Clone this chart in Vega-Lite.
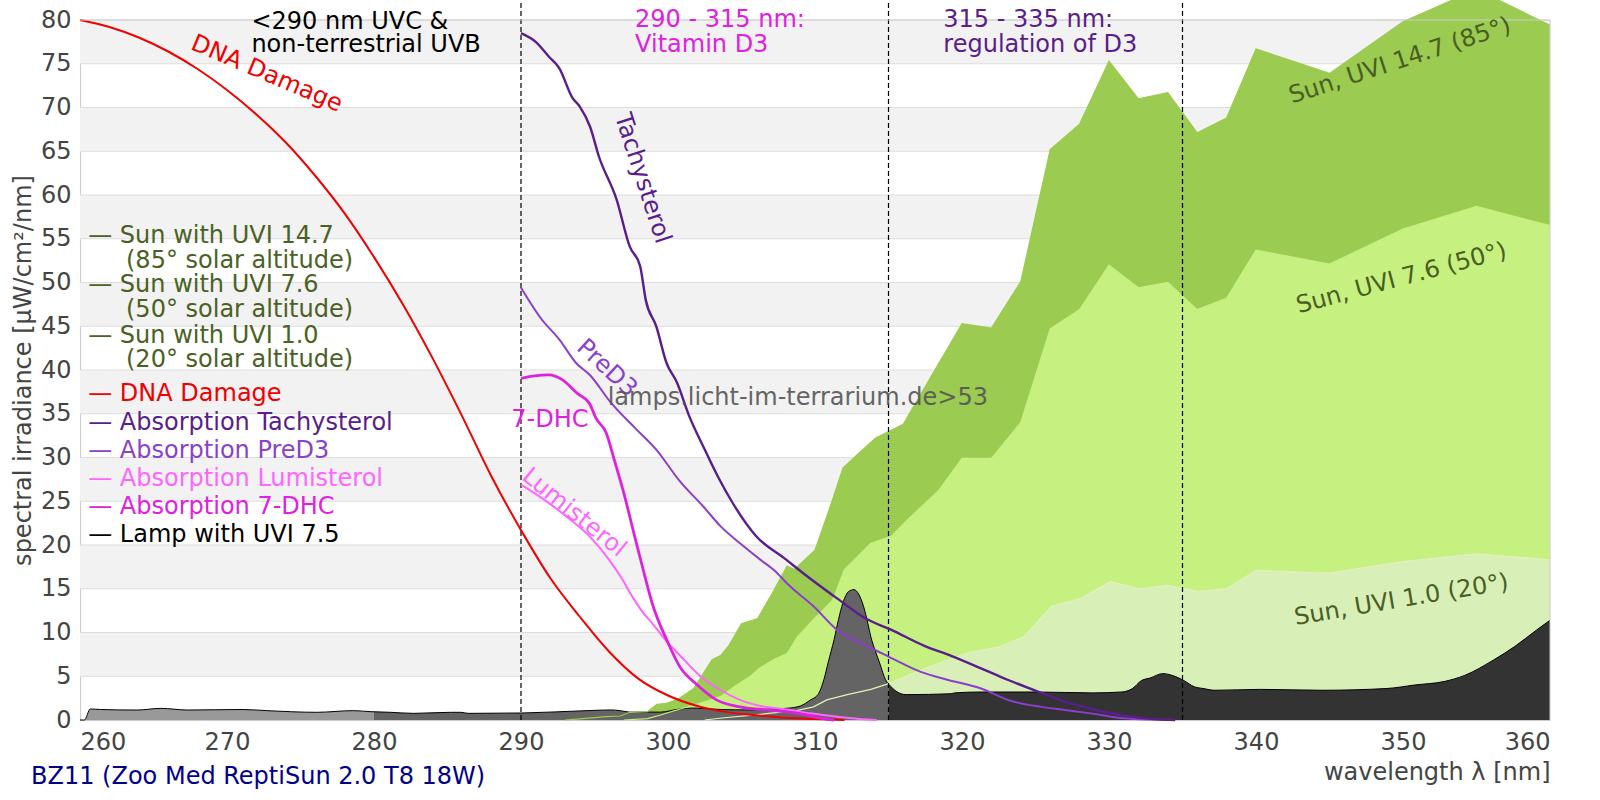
{
  "$schema": "https://vega.github.io/schema/vega-lite/v6.json",
  "width": 1470,
  "height": 700,
  "autosize": {"type": "none"},
  "padding": {"left": 80, "top": 20, "right": 50, "bottom": 80},
  "background": "white",
  "config": {
    "view": {"stroke": null},
    "axis": {"labelFont": "DejaVu Sans", "titleFont": "DejaVu Sans", "ticks": false, "grid": false,
      "domainColor": "#cccccc", "labelFontSize": 24, "labelColor": "#444444",
      "titleFontSize": 24, "titleFontWeight": "normal", "titleColor": "#444444"},
    "axisX": {"labelPadding": 10, "titleAnchor": "end", "titlePadding": 6},
    "axisY": {"labelPadding": 9, "titlePadding": 5},
    "text": {"font": "DejaVu Sans", "fontSize": 24}
  },
  "datasets": {
    "sun14": [
      {"wl": 293, "v": 0}, {"wl": 294, "v": 0.12}, {"wl": 295.8, "v": 0.38}, {"wl": 296.75, "v": 0.46},
      {"wl": 297.4, "v": 0.88}, {"wl": 298.6, "v": 0.95}, {"wl": 299.25, "v": 1.8}, {"wl": 299.9, "v": 1.9},
      {"wl": 300.7, "v": 2.4}, {"wl": 301.75, "v": 3.6}, {"wl": 303, "v": 6.9}, {"wl": 303.6, "v": 7.4},
      {"wl": 304.1, "v": 8.4}, {"wl": 305, "v": 11.0}, {"wl": 306.1, "v": 11.6}, {"wl": 307.1, "v": 14.5},
      {"wl": 308.1, "v": 17.6}, {"wl": 308.6, "v": 17.2}, {"wl": 310, "v": 19.4}, {"wl": 311.2, "v": 25.2},
      {"wl": 311.9, "v": 28.8}, {"wl": 312.8, "v": 30.2}, {"wl": 314.1, "v": 32.2}, {"wl": 316, "v": 33.8},
      {"wl": 320, "v": 45.3}, {"wl": 322, "v": 44.8}, {"wl": 324, "v": 50.1}, {"wl": 326, "v": 65.2},
      {"wl": 328, "v": 68.1}, {"wl": 330, "v": 75.3}, {"wl": 332, "v": 71.0}, {"wl": 334, "v": 71.7},
      {"wl": 336, "v": 67.1}, {"wl": 338, "v": 68.8}, {"wl": 340, "v": 76.7}, {"wl": 345, "v": 73.9},
      {"wl": 350, "v": 79.8}, {"wl": 355, "v": 83.5}, {"wl": 360, "v": 79.4}
    ],
    "sun7": [
      {"wl": 297, "v": 0}, {"wl": 298.6, "v": 0.15}, {"wl": 299.5, "v": 0.57}, {"wl": 300.7, "v": 1.2},
      {"wl": 302.2, "v": 1.9}, {"wl": 303.6, "v": 2.7}, {"wl": 304.5, "v": 3.8}, {"wl": 305.6, "v": 5.0},
      {"wl": 306.2, "v": 5.9}, {"wl": 307.2, "v": 6.9}, {"wl": 308.1, "v": 7.6}, {"wl": 308.8, "v": 9.5},
      {"wl": 309.9, "v": 11.5}, {"wl": 311.2, "v": 13.7}, {"wl": 312, "v": 17.2}, {"wl": 313.8, "v": 20.2},
      {"wl": 315.2, "v": 21.0}, {"wl": 316.3, "v": 22.9}, {"wl": 318.4, "v": 26.2}, {"wl": 320, "v": 29.9},
      {"wl": 322, "v": 29.9}, {"wl": 324, "v": 34.0}, {"wl": 326, "v": 44.7}, {"wl": 328, "v": 46.9},
      {"wl": 330, "v": 52.0}, {"wl": 332, "v": 49.4}, {"wl": 334, "v": 50.0}, {"wl": 336, "v": 46.9},
      {"wl": 338, "v": 48.2}, {"wl": 340, "v": 53.7}, {"wl": 345, "v": 52.1}, {"wl": 350, "v": 56.1},
      {"wl": 355, "v": 58.7}, {"wl": 360, "v": 56.5}
    ],
    "sun1": [
      {"wl": 302.5, "v": 0}, {"wl": 303.5, "v": 0.2}, {"wl": 306.3, "v": 0.65}, {"wl": 308.8, "v": 1.1},
      {"wl": 309.9, "v": 1.5}, {"wl": 310.8, "v": 2.3}, {"wl": 312.2, "v": 2.9}, {"wl": 313.8, "v": 3.5},
      {"wl": 314.9, "v": 4.1}, {"wl": 317.2, "v": 5.7}, {"wl": 320.2, "v": 7.6}, {"wl": 322.6, "v": 8.4},
      {"wl": 324.2, "v": 9.5}, {"wl": 326.1, "v": 13.0}, {"wl": 328.1, "v": 13.9}, {"wl": 330.1, "v": 15.8},
      {"wl": 332.1, "v": 15.0}, {"wl": 334, "v": 15.4}, {"wl": 336, "v": 14.7}, {"wl": 338, "v": 15.0},
      {"wl": 340, "v": 17.1}, {"wl": 345, "v": 16.8}, {"wl": 350, "v": 18.1}, {"wl": 355, "v": 19.0},
      {"wl": 360, "v": 18.3}
    ],
    "lamp": [
      {"seg": "a", "wl": 260, "v": 0}, {"seg": "a", "wl": 260.3, "v": 0}, {"seg": "a", "wl": 260.7, "v": 1.26},
      {"seg": "a", "wl": 261.4, "v": 1.2}, {"seg": "a", "wl": 263.9, "v": 1.14}, {"seg": "a", "wl": 265.5, "v": 1.33},
      {"seg": "a", "wl": 267.3, "v": 1.14}, {"seg": "a", "wl": 271.1, "v": 1.2}, {"seg": "a", "wl": 272.7, "v": 1.07},
      {"seg": "a", "wl": 276.1, "v": 0.88}, {"seg": "a", "wl": 278.6, "v": 1.07}, {"seg": "a", "wl": 279.8, "v": 0.95},
      {"seg": "a", "wl": 280, "v": 0.94},
      {"seg": "b", "wl": 280, "v": 0.94}, {"seg": "b", "wl": 281.1, "v": 0.88}, {"seg": "b", "wl": 282.7, "v": 0.76},
      {"seg": "b", "wl": 285.2, "v": 0.88}, {"seg": "b", "wl": 285.9, "v": 0.88}, {"seg": "b", "wl": 286.4, "v": 0.76},
      {"seg": "b", "wl": 290, "v": 0.8}, {"seg": "b", "wl": 294.5, "v": 1.07}, {"seg": "b", "wl": 296.1, "v": 1.15},
      {"seg": "b", "wl": 296.75, "v": 1.07}, {"seg": "b", "wl": 297.4, "v": 0.9}, {"seg": "b", "wl": 299.5, "v": 0.9},
      {"seg": "b", "wl": 300.8, "v": 1.26}, {"seg": "b", "wl": 301.75, "v": 1.37}, {"seg": "b", "wl": 303.6, "v": 1.2},
      {"seg": "b", "wl": 305.6, "v": 1.15}, {"seg": "b", "wl": 307, "v": 1.26}, {"seg": "b", "wl": 308.1, "v": 1.34},
      {"seg": "b", "wl": 309, "v": 1.6}, {"seg": "b", "wl": 309.7, "v": 2.3}, {"seg": "b", "wl": 310.2, "v": 2.9},
      {"seg": "b", "wl": 310.6, "v": 4.6}, {"seg": "b", "wl": 310.9, "v": 6.6}, {"seg": "b", "wl": 311.3, "v": 9.2},
      {"seg": "b", "wl": 311.6, "v": 11.5}, {"seg": "b", "wl": 311.9, "v": 13.4}, {"seg": "b", "wl": 312.3, "v": 14.7},
      {"seg": "b", "wl": 312.65, "v": 14.9}, {"seg": "b", "wl": 313.0, "v": 14.3}, {"seg": "b", "wl": 313.3, "v": 13.0},
      {"seg": "b", "wl": 313.6, "v": 11.0}, {"seg": "b", "wl": 313.8, "v": 9.5}, {"seg": "b", "wl": 314.1, "v": 7.9},
      {"seg": "b", "wl": 314.4, "v": 6.5}, {"seg": "b", "wl": 314.8, "v": 4.6}, {"seg": "b", "wl": 315, "v": 4.1},
      {"seg": "c", "wl": 315, "v": 4.1}, {"seg": "c", "wl": 315.6, "v": 3.2}, {"seg": "c", "wl": 316.2, "v": 2.9},
      {"seg": "c", "wl": 319.25, "v": 3.0}, {"seg": "c", "wl": 319.5, "v": 3.1}, {"seg": "c", "wl": 321.3, "v": 3.2},
      {"seg": "c", "wl": 325, "v": 3.2}, {"seg": "c", "wl": 328.9, "v": 3.1}, {"seg": "c", "wl": 330.85, "v": 3.2},
      {"seg": "c", "wl": 331.6, "v": 3.6}, {"seg": "c", "wl": 332.2, "v": 4.5}, {"seg": "c", "wl": 332.8, "v": 4.8},
      {"seg": "c", "wl": 333.65, "v": 5.3}, {"seg": "c", "wl": 334.3, "v": 5.1}, {"seg": "c", "wl": 335.1, "v": 4.5},
      {"seg": "c", "wl": 335.8, "v": 3.8}, {"seg": "c", "wl": 336.4, "v": 3.6}, {"seg": "c", "wl": 337.2, "v": 3.4},
      {"seg": "c", "wl": 340.3, "v": 3.5}, {"seg": "c", "wl": 344.5, "v": 3.4}, {"seg": "c", "wl": 348.9, "v": 3.6},
      {"seg": "c", "wl": 350.8, "v": 4.0}, {"seg": "c", "wl": 352.8, "v": 4.4}, {"seg": "c", "wl": 354.2, "v": 5.1},
      {"seg": "c", "wl": 356.2, "v": 6.9}, {"seg": "c", "wl": 357.6, "v": 8.4}, {"seg": "c", "wl": 359.1, "v": 10.3},
      {"seg": "c", "wl": 360, "v": 11.4}
    ],
    "dna": [
      {"wl": 260, "v": 80}, {"wl": 262, "v": 79.2}, {"wl": 264, "v": 78.0}, {"wl": 266, "v": 76.4},
      {"wl": 268, "v": 74.4}, {"wl": 270, "v": 72.0}, {"wl": 272, "v": 69.2}, {"wl": 274, "v": 66.0},
      {"wl": 276, "v": 62.2}, {"wl": 278, "v": 57.9}, {"wl": 280, "v": 52.9}, {"wl": 282, "v": 47.4},
      {"wl": 284, "v": 41.3}, {"wl": 286, "v": 34.7}, {"wl": 288, "v": 27.8}, {"wl": 290, "v": 21.7},
      {"wl": 292, "v": 16.2}, {"wl": 294, "v": 11.8}, {"wl": 296, "v": 7.8}, {"wl": 298, "v": 4.7},
      {"wl": 300, "v": 2.8}, {"wl": 302, "v": 1.6}, {"wl": 304, "v": 0.9}, {"wl": 306, "v": 0.55},
      {"wl": 308, "v": 0.25}, {"wl": 310, "v": 0.1}, {"wl": 312, "v": 0}
    ],
    "tachy": [
      {"wl": 290, "v": 78.5}, {"wl": 291, "v": 77.5}, {"wl": 291.9, "v": 75.8}, {"wl": 292.6, "v": 74.5},
      {"wl": 293.5, "v": 71.1}, {"wl": 294, "v": 70.1}, {"wl": 294.7, "v": 67.8}, {"wl": 295.3, "v": 64.4},
      {"wl": 296.5, "v": 59.5}, {"wl": 297.4, "v": 54.1}, {"wl": 298.1, "v": 51.9}, {"wl": 298.5, "v": 47.9},
      {"wl": 299.2, "v": 45.0}, {"wl": 299.9, "v": 40.8}, {"wl": 300.6, "v": 38.6}, {"wl": 301.45, "v": 34.7},
      {"wl": 302.4, "v": 31.25}, {"wl": 303.4, "v": 27.8}, {"wl": 304.4, "v": 24.8}, {"wl": 306, "v": 21.0},
      {"wl": 307.9, "v": 18.5}, {"wl": 309.8, "v": 16.0}, {"wl": 311.5, "v": 13.9}, {"wl": 313.45, "v": 11.6},
      {"wl": 315.2, "v": 10.3}, {"wl": 317.4, "v": 8.5}, {"wl": 319.3, "v": 7.3}, {"wl": 321.3, "v": 5.9},
      {"wl": 323.1, "v": 4.6}, {"wl": 325.4, "v": 3.1}, {"wl": 327, "v": 2.1}, {"wl": 329, "v": 1.2},
      {"wl": 331, "v": 0.5}, {"wl": 333, "v": 0.1}, {"wl": 334.5, "v": 0}
    ],
    "pred3": [
      {"wl": 290, "v": 49.4}, {"wl": 291.4, "v": 45.8}, {"wl": 292.6, "v": 43.5}, {"wl": 293.75, "v": 40.8},
      {"wl": 294.7, "v": 39.4}, {"wl": 296.1, "v": 36.3}, {"wl": 297.8, "v": 33.3}, {"wl": 299.2, "v": 30.9},
      {"wl": 300.8, "v": 27.3}, {"wl": 302.4, "v": 24.4}, {"wl": 303.6, "v": 22.1}, {"wl": 304.9, "v": 20.2},
      {"wl": 306.3, "v": 18.3}, {"wl": 307.3, "v": 17.0}, {"wl": 308.1, "v": 15.6}, {"wl": 309.9, "v": 13.0},
      {"wl": 311.5, "v": 10.3}, {"wl": 313.6, "v": 8.4}, {"wl": 315, "v": 7.25}, {"wl": 317.2, "v": 5.5},
      {"wl": 319, "v": 4.6}, {"wl": 321.3, "v": 3.6}, {"wl": 323.3, "v": 2.2}, {"wl": 325.4, "v": 1.5},
      {"wl": 327, "v": 1.14}, {"wl": 329, "v": 0.7}, {"wl": 331, "v": 0.2}, {"wl": 333, "v": 0.05},
      {"wl": 334.5, "v": 0}
    ],
    "lumi": [
      {"wl": 290, "v": 26.9}, {"wl": 291.25, "v": 25.55}, {"wl": 293.06, "v": 23.3}, {"wl": 294.6, "v": 21.1},
      {"wl": 296, "v": 18.3}, {"wl": 296.9, "v": 16.05}, {"wl": 297.5, "v": 14.3}, {"wl": 298.2, "v": 12.5},
      {"wl": 299, "v": 10.9}, {"wl": 299.9, "v": 9.0}, {"wl": 300.8, "v": 7.4}, {"wl": 302.2, "v": 5.0},
      {"wl": 303.6, "v": 3.4}, {"wl": 304.9, "v": 2.3}, {"wl": 306.3, "v": 1.6}, {"wl": 308.1, "v": 1.2},
      {"wl": 309.7, "v": 0.76}, {"wl": 311.5, "v": 0.38}, {"wl": 313.6, "v": 0.05}, {"wl": 314.2, "v": 0}
    ],
    "dhc": [
      {"wl": 290, "v": 39.05}, {"wl": 290.8, "v": 39.3}, {"wl": 291.9, "v": 39.45}, {"wl": 292.8, "v": 38.9},
      {"wl": 293.85, "v": 37.3}, {"wl": 294.65, "v": 36.2}, {"wl": 295.1, "v": 34.5}, {"wl": 295.8, "v": 32.8},
      {"wl": 296.35, "v": 29.7}, {"wl": 297.0, "v": 25.9}, {"wl": 297.7, "v": 21.2}, {"wl": 298.4, "v": 16.6},
      {"wl": 298.95, "v": 13.2}, {"wl": 299.9, "v": 9.2}, {"wl": 300.8, "v": 6.1}, {"wl": 302.0, "v": 4.0},
      {"wl": 303.3, "v": 2.3}, {"wl": 304.9, "v": 1.5}, {"wl": 306.75, "v": 1.15}, {"wl": 308.8, "v": 0.76},
      {"wl": 310.8, "v": 0.1}, {"wl": 311.3, "v": 0}
    ]
  },
  "layer": [
    {
      "data": {"values": [
        {"wl": 260, "wl2": 360, "v": 5, "v2": 10}, {"wl": 260, "wl2": 360, "v": 15, "v2": 20},
        {"wl": 260, "wl2": 360, "v": 25, "v2": 30}, {"wl": 260, "wl2": 360, "v": 35, "v2": 40},
        {"wl": 260, "wl2": 360, "v": 45, "v2": 50}, {"wl": 260, "wl2": 360, "v": 55, "v2": 60},
        {"wl": 260, "wl2": 360, "v": 65, "v2": 70}, {"wl": 260, "wl2": 360, "v": 75, "v2": 80}
      ]},
      "mark": {"type": "rect", "color": "#f2f2f2"},
      "encoding": {
        "x": {"field": "wl", "type": "quantitative", "title": "wavelength λ [nm]",
          "scale": {"domain": [260, 360], "nice": false, "zero": false},
          "axis": {"values": [260, 270, 280, 290, 300, 310, 320, 330, 340, 350, 360]}},
        "x2": {"field": "wl2"},
        "y": {"field": "v", "type": "quantitative", "title": "spectral irradiance [µW/cm²/nm]",
          "scale": {"domain": [0, 80], "nice": false, "zero": false},
          "axis": {"values": [0, 5, 10, 15, 20, 25, 30, 35, 40, 45, 50, 55, 60, 65, 70, 75, 80]}},
        "y2": {"field": "v2"}
      }
    },
    {
      "data": {"values": [
        {"v": 5}, {"v": 10}, {"v": 15}, {"v": 20}, {"v": 25}, {"v": 30}, {"v": 35}, {"v": 40},
        {"v": 45}, {"v": 50}, {"v": 55}, {"v": 60}, {"v": 65}, {"v": 70}, {"v": 75}, {"v": 80}
      ]},
      "mark": {"type": "rule", "color": "#dddddd", "strokeWidth": 1},
      "encoding": {"y": {"field": "v", "type": "quantitative", "title": "spectral irradiance [µW/cm²/nm]"}}
    },
    {
      "data": {"name": "sun14"},
      "mark": {"type": "area", "color": "#9bcb50", "opacity": 1},
      "encoding": {"x": {"field": "wl", "type": "quantitative", "title": "wavelength λ [nm]"}, "y": {"field": "v", "type": "quantitative", "stack": null, "title": "spectral irradiance [µW/cm²/nm]"}}
    },
    {
      "data": {"name": "sun7"},
      "mark": {"type": "area", "color": "#c6f07f", "opacity": 1},
      "encoding": {"x": {"field": "wl", "type": "quantitative", "title": "wavelength λ [nm]"}, "y": {"field": "v", "type": "quantitative", "stack": null, "title": "spectral irradiance [µW/cm²/nm]"}}
    },
    {
      "data": {"name": "sun1"},
      "mark": {"type": "area", "color": "#d9efb8", "opacity": 1},
      "encoding": {"x": {"field": "wl", "type": "quantitative", "title": "wavelength λ [nm]"}, "y": {"field": "v", "type": "quantitative", "stack": null, "title": "spectral irradiance [µW/cm²/nm]"}}
    },
    {
      "data": {"name": "lamp"},
      "transform": [{"filter": "datum.seg == 'a'"}],
      "mark": {"type": "area", "color": "#999999", "opacity": 1, "interpolate": "monotone"},
      "encoding": {"x": {"field": "wl", "type": "quantitative", "title": "wavelength λ [nm]"}, "y": {"field": "v", "type": "quantitative", "stack": null, "title": "spectral irradiance [µW/cm²/nm]"}}
    },
    {
      "data": {"name": "lamp"},
      "transform": [{"filter": "datum.seg == 'b'"}],
      "mark": {"type": "area", "color": "#646464", "opacity": 1, "interpolate": "monotone"},
      "encoding": {"x": {"field": "wl", "type": "quantitative", "title": "wavelength λ [nm]"}, "y": {"field": "v", "type": "quantitative", "stack": null, "title": "spectral irradiance [µW/cm²/nm]"}}
    },
    {
      "data": {"name": "lamp"},
      "transform": [{"filter": "datum.seg == 'c'"}],
      "mark": {"type": "area", "color": "#333333", "opacity": 1, "interpolate": "monotone"},
      "encoding": {"x": {"field": "wl", "type": "quantitative", "title": "wavelength λ [nm]"}, "y": {"field": "v", "type": "quantitative", "stack": null, "title": "spectral irradiance [µW/cm²/nm]"}}
    },
    {
      "data": {"name": "lamp"},
      "mark": {"type": "line", "color": "#000000", "strokeWidth": 1, "interpolate": "monotone"},
      "encoding": {"x": {"field": "wl", "type": "quantitative", "title": "wavelength λ [nm]"}, "y": {"field": "v", "type": "quantitative", "title": "spectral irradiance [µW/cm²/nm]"}, "detail": {"field": "seg"}}
    },
    {
      "data": {"name": "sun14"},
      "mark": {"type": "line", "color": "#9bcb50", "strokeWidth": 1.2},
      "encoding": {"x": {"field": "wl", "type": "quantitative", "title": "wavelength λ [nm]"}, "y": {"field": "v", "type": "quantitative", "title": "spectral irradiance [µW/cm²/nm]"}}
    },
    {
      "data": {"name": "sun7"},
      "mark": {"type": "line", "color": "#c6f07f", "strokeWidth": 1.2},
      "encoding": {"x": {"field": "wl", "type": "quantitative", "title": "wavelength λ [nm]"}, "y": {"field": "v", "type": "quantitative", "title": "spectral irradiance [µW/cm²/nm]"}}
    },
    {
      "data": {"name": "sun1"},
      "mark": {"type": "line", "color": "#dff2bd", "strokeWidth": 1.2},
      "encoding": {"x": {"field": "wl", "type": "quantitative", "title": "wavelength λ [nm]"}, "y": {"field": "v", "type": "quantitative", "title": "spectral irradiance [µW/cm²/nm]"}}
    },
    {
      "data": {"values": [{"wl": 290, "v": 0, "v2": 82.3}, {"wl": 315, "v": 0, "v2": 82.3}, {"wl": 335, "v": 0, "v2": 82.3}]},
      "mark": {"type": "rule", "color": "#000000", "strokeWidth": 1.2, "strokeDash": [5, 3]},
      "encoding": {"x": {"field": "wl", "type": "quantitative", "title": "wavelength λ [nm]"}, "y": {"field": "v", "type": "quantitative", "title": "spectral irradiance [µW/cm²/nm]"}, "y2": {"field": "v2"}}
    },
    {
      "data": {"name": "dna"},
      "mark": {"type": "line", "color": "#f00000", "strokeWidth": 2, "interpolate": "monotone"},
      "encoding": {"x": {"field": "wl", "type": "quantitative", "title": "wavelength λ [nm]"}, "y": {"field": "v", "type": "quantitative", "title": "spectral irradiance [µW/cm²/nm]"}}
    },
    {
      "data": {"name": "lumi"},
      "mark": {"type": "line", "color": "#ff66ff", "strokeWidth": 2, "interpolate": "monotone"},
      "encoding": {"x": {"field": "wl", "type": "quantitative", "title": "wavelength λ [nm]"}, "y": {"field": "v", "type": "quantitative", "title": "spectral irradiance [µW/cm²/nm]"}}
    },
    {
      "data": {"name": "dhc"},
      "mark": {"type": "line", "color": "#e020e0", "strokeWidth": 2.8, "interpolate": "monotone"},
      "encoding": {"x": {"field": "wl", "type": "quantitative", "title": "wavelength λ [nm]"}, "y": {"field": "v", "type": "quantitative", "title": "spectral irradiance [µW/cm²/nm]"}}
    },
    {
      "data": {"name": "pred3"},
      "mark": {"type": "line", "color": "#8b3fcb", "strokeWidth": 2, "interpolate": "monotone"},
      "encoding": {"x": {"field": "wl", "type": "quantitative", "title": "wavelength λ [nm]"}, "y": {"field": "v", "type": "quantitative", "title": "spectral irradiance [µW/cm²/nm]"}}
    },
    {
      "data": {"name": "tachy"},
      "mark": {"type": "line", "color": "#5a1d8c", "strokeWidth": 2.4, "interpolate": "monotone"},
      "encoding": {"x": {"field": "wl", "type": "quantitative", "title": "wavelength λ [nm]"}, "y": {"field": "v", "type": "quantitative", "title": "spectral irradiance [µW/cm²/nm]"}}
    },
    {
      "data": {"values": [{"wl": 260, "wl2": 360, "v": 80}]},
      "mark": {"type": "rule", "color": "#cccccc", "strokeWidth": 1},
      "encoding": {"x": {"field": "wl", "type": "quantitative", "title": "wavelength λ [nm]"}, "x2": {"field": "wl2"}, "y": {"field": "v", "type": "quantitative", "title": "spectral irradiance [µW/cm²/nm]"}}
    },
    {
      "data": {"values": [{"wl": 360, "v": 0, "v2": 80}]},
      "mark": {"type": "rule", "color": "#cccccc", "strokeWidth": 1},
      "encoding": {"x": {"field": "wl", "type": "quantitative", "title": "wavelength λ [nm]"}, "y": {"field": "v", "type": "quantitative", "title": "spectral irradiance [µW/cm²/nm]"}, "y2": {"field": "v2"}}
    },
    {
      "data": {"values": [{"wl": 272.7, "v": 73.83, "t": "DNA Damage"}]},
      "mark": {"type": "text", "color": "#f00000", "angle": 23, "align": "center", "baseline": "middle", "fontSize": 24},
      "encoding": {"x": {"field": "wl", "type": "quantitative", "title": "wavelength λ [nm]"}, "y": {"field": "v", "type": "quantitative", "title": "spectral irradiance [µW/cm²/nm]"}, "text": {"field": "t"}}
    },
    {
      "data": {"values": [{"wl": 298.25, "v": 61.9, "t": "Tachysterol"}]},
      "mark": {"type": "text", "color": "#5a1d8c", "angle": 72, "align": "center", "baseline": "middle", "fontSize": 24},
      "encoding": {"x": {"field": "wl", "type": "quantitative", "title": "wavelength λ [nm]"}, "y": {"field": "v", "type": "quantitative", "title": "spectral irradiance [µW/cm²/nm]"}, "text": {"field": "t"}}
    },
    {
      "data": {"values": [{"wl": 295.83, "v": 40.2, "t": "PreD3"}]},
      "mark": {"type": "text", "color": "#8b3fcb", "angle": 42.5, "align": "center", "baseline": "middle", "fontSize": 24},
      "encoding": {"x": {"field": "wl", "type": "quantitative", "title": "wavelength λ [nm]"}, "y": {"field": "v", "type": "quantitative", "title": "spectral irradiance [µW/cm²/nm]"}, "text": {"field": "t"}}
    },
    {
      "data": {"values": [{"wl": 291.97, "v": 34.23, "t": "7-DHC"}]},
      "mark": {"type": "text", "color": "#e020e0", "angle": 0, "align": "center", "baseline": "middle", "fontSize": 24},
      "encoding": {"x": {"field": "wl", "type": "quantitative", "title": "wavelength λ [nm]"}, "y": {"field": "v", "type": "quantitative", "title": "spectral irradiance [µW/cm²/nm]"}, "text": {"field": "t"}}
    },
    {
      "data": {"values": [{"wl": 293.6, "v": 23.7, "t": "Lumisterol"}]},
      "mark": {"type": "text", "color": "#ff66ff", "angle": 39, "align": "center", "baseline": "middle", "fontSize": 24},
      "encoding": {"x": {"field": "wl", "type": "quantitative", "title": "wavelength λ [nm]"}, "y": {"field": "v", "type": "quantitative", "title": "spectral irradiance [µW/cm²/nm]"}, "text": {"field": "t"}}
    },
    {
      "data": {"values": [{"wl": 349.8, "v": 75.3, "t": "Sun, UVI 14.7 (85°)"}]},
      "mark": {"type": "text", "color": "#4a5e23", "angle": -18, "align": "center", "baseline": "middle", "fontSize": 24},
      "encoding": {"x": {"field": "wl", "type": "quantitative", "title": "wavelength λ [nm]"}, "y": {"field": "v", "type": "quantitative", "title": "spectral irradiance [µW/cm²/nm]"}, "text": {"field": "t"}}
    },
    {
      "data": {"values": [{"wl": 349.9, "v": 50.45, "t": "Sun, UVI 7.6 (50°)"}]},
      "mark": {"type": "text", "color": "#4a5e23", "angle": -15, "align": "center", "baseline": "middle", "fontSize": 24},
      "encoding": {"x": {"field": "wl", "type": "quantitative", "title": "wavelength λ [nm]"}, "y": {"field": "v", "type": "quantitative", "title": "spectral irradiance [µW/cm²/nm]"}, "text": {"field": "t"}}
    },
    {
      "data": {"values": [{"wl": 349.9, "v": 13.7, "t": "Sun, UVI 1.0 (20°)"}]},
      "mark": {"type": "text", "color": "#4a5e23", "angle": -9.5, "align": "center", "baseline": "middle", "fontSize": 24},
      "encoding": {"x": {"field": "wl", "type": "quantitative", "title": "wavelength λ [nm]"}, "y": {"field": "v", "type": "quantitative", "title": "spectral irradiance [µW/cm²/nm]"}, "text": {"field": "t"}}
    },
    {
      "data": {"values": [{"wl": 271.66, "v": 79.79, "t": "<290 nm UVC &"}, {"wl": 271.66, "v": 77.2, "t": "non-terrestrial UVB"}]},
      "mark": {"type": "text", "color": "#000000", "align": "left", "baseline": "middle", "fontSize": 24},
      "encoding": {"x": {"field": "wl", "type": "quantitative", "title": "wavelength λ [nm]"}, "y": {"field": "v", "type": "quantitative", "title": "spectral irradiance [µW/cm²/nm]"}, "text": {"field": "t"}}
    },
    {
      "data": {"values": [{"wl": 297.76, "v": 80.02, "t": "290 - 315 nm:"}, {"wl": 297.76, "v": 77.17, "t": "Vitamin D3"}]},
      "mark": {"type": "text", "color": "#e020e0", "align": "left", "baseline": "middle", "fontSize": 24},
      "encoding": {"x": {"field": "wl", "type": "quantitative", "title": "wavelength λ [nm]"}, "y": {"field": "v", "type": "quantitative", "title": "spectral irradiance [µW/cm²/nm]"}, "text": {"field": "t"}}
    },
    {
      "data": {"values": [{"wl": 318.73, "v": 80.02, "t": "315 - 335 nm:"}, {"wl": 318.73, "v": 77.17, "t": "regulation of D3"}]},
      "mark": {"type": "text", "color": "#5a1d8c", "align": "left", "baseline": "middle", "fontSize": 24},
      "encoding": {"x": {"field": "wl", "type": "quantitative", "title": "wavelength λ [nm]"}, "y": {"field": "v", "type": "quantitative", "title": "spectral irradiance [µW/cm²/nm]"}, "text": {"field": "t"}}
    },
    {
      "data": {"values": [{"wl": 308.83, "v": 36.8, "t": "lamps.licht-im-terrarium.de>53"}]},
      "mark": {"type": "text", "color": "#555555", "opacity": 0.9, "align": "center", "baseline": "middle", "fontSize": 24},
      "encoding": {"x": {"field": "wl", "type": "quantitative", "title": "wavelength λ [nm]"}, "y": {"field": "v", "type": "quantitative", "title": "spectral irradiance [µW/cm²/nm]"}, "text": {"field": "t"}}
    },
    {
      "data": {"values": [{"wl": 256.67, "v": -6.46, "t": "BZ11 (Zoo Med ReptiSun 2.0 T8 18W)"}]},
      "mark": {"type": "text", "color": "#00008b", "align": "left", "baseline": "middle", "fontSize": 24},
      "encoding": {"x": {"field": "wl", "type": "quantitative", "title": "wavelength λ [nm]"}, "y": {"field": "v", "type": "quantitative", "title": "spectral irradiance [µW/cm²/nm]"}, "text": {"field": "t"}}
    },
    {
      "data": {"values": [
        {"wl": 260.56, "v": 55.26, "t": "— Sun with UVI 14.7", "s": "sun"},
        {"wl": 263.13, "v": 52.51, "t": "(85° solar altitude)", "s": "sun"},
        {"wl": 260.56, "v": 49.66, "t": "— Sun with UVI 7.6", "s": "sun"},
        {"wl": 263.13, "v": 46.88, "t": "(50° solar altitude)", "s": "sun"},
        {"wl": 260.56, "v": 43.94, "t": "— Sun with UVI 1.0", "s": "sun"},
        {"wl": 263.13, "v": 41.2, "t": "(20° solar altitude)", "s": "sun"},
        {"wl": 260.56, "v": 37.25, "t": "— DNA Damage", "s": "dna"},
        {"wl": 260.56, "v": 33.92, "t": "— Absorption Tachysterol", "s": "tachy"},
        {"wl": 260.56, "v": 30.74, "t": "— Absorption PreD3", "s": "pred3"},
        {"wl": 260.56, "v": 27.6, "t": "— Absorption Lumisterol", "s": "lumi"},
        {"wl": 260.56, "v": 24.34, "t": "— Absorption 7-DHC", "s": "dhc"},
        {"wl": 260.56, "v": 21.2, "t": "— Lamp with UVI 7.5", "s": "lamp"}
      ]},
      "mark": {"type": "text", "align": "left", "baseline": "middle", "fontSize": 24},
      "encoding": {
        "x": {"field": "wl", "type": "quantitative", "title": "wavelength λ [nm]"},
        "y": {"field": "v", "type": "quantitative", "title": "spectral irradiance [µW/cm²/nm]"},
        "text": {"field": "t"},
        "color": {"field": "s", "type": "nominal", "legend": null,
          "scale": {"domain": ["sun", "dna", "tachy", "pred3", "lumi", "dhc", "lamp"],
            "range": ["#4a6124", "#f00000", "#5a1d8c", "#8b3fcb", "#ff66ff", "#e020e0", "#000000"]}}
      }
    }
  ]
}
